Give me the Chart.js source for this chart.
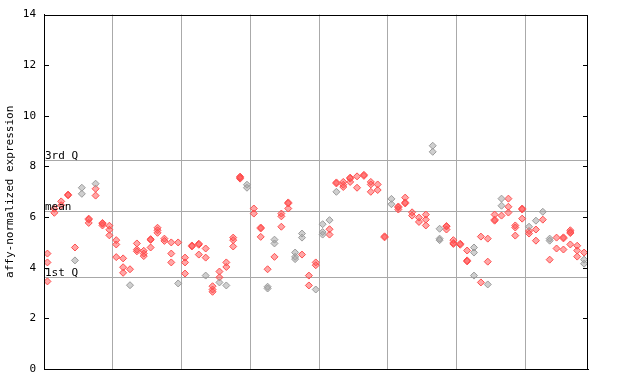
<!DOCTYPE html>
<html><head><meta charset="utf-8">
<script src="https://cdn.jsdelivr.net/npm/chart.js@4"></script>
<style>html,body{margin:0;padding:0;background:#fff}#wrap{width:640px;height:384px}canvas{display:block}</style>
</head><body>
<div id="wrap"><canvas id="c" width="640" height="384"></canvas></div>
<script>
// values per sample position (0..78), split by marker colour
const redValues = [
 [4.56,4.21,3.46],[6.33,6.17],[6.62,6.47],[6.89,6.86],[4.80],[],[5.94,5.90,5.77],[7.12,6.85],[5.77,5.74,5.67],[5.66,5.50,5.28],
 [5.09,4.92,4.42],[4.37,4.02,3.80],[3.94],[4.96,4.72,4.65],[4.67,4.56,4.46],[5.13,5.10,4.80],[5.58,5.48,5.38],[5.15,5.06],[5.00,4.56,4.21],[5.00],
 [4.40,4.21,3.77],[4.88,4.84],[4.95,4.91,4.52],[4.76,4.40],[3.27,3.14,3.05],[3.85,3.62],[4.21,4.03],[5.19,5.09,4.84],[7.60,7.56,7.52],[],
 [6.34,6.14],[5.59,5.55,5.22],[3.94],[4.43],[6.14,6.03,5.62],[6.58,6.54,6.34],[],[4.52],[3.69,3.30],[4.21,4.10],
 [],[5.52,5.31],[7.37,7.33],[7.39,7.28,7.19],[7.56,7.52,7.39],[7.61,7.16],[7.67,7.63],[7.39,7.29,7.00],[7.29,7.07],[5.24,5.20],
 [],[6.42,6.38,6.30],[6.77,6.58,6.54],[6.19,6.06],[5.98,5.81],[6.10,5.90,5.67],[],[],[5.65,5.63,5.51],[5.09,4.98,4.94],
 [4.95,4.91],[4.68,4.29,4.25],[],[5.23,3.42],[5.15,4.24],[6.10,5.90,5.86],[6.06],[6.73,6.41,6.18],[5.67,5.59,5.27],[6.34,6.30,5.94],
 [5.45,5.35],[5.51,5.07],[5.90],[4.32],[5.19,4.76],[5.20,5.16,4.72],[5.48,5.41,5.37,4.92],[4.87,4.68,4.44],[4.60]
];
const grayValues = [
 [],[],[],[],[4.29],[7.16,6.92],[],[7.32],[],[],
 [],[],[3.31],[],[],[],[],[],[],[3.38],
 [],[],[],[3.69],[],[3.42],[3.30],[],[],[7.28,7.16],
 [],[],[3.25,3.18],[5.11,4.96],[],[],[4.60,4.43,4.34],[5.35,5.19],[],[3.14],
 [5.72,5.41,5.31],[5.88],[7.00],[],[],[],[],[],[],[],
 [6.72,6.51],[],[],[],[],[],[8.82,8.58],[5.54,5.15,5.09],[],[],
 [],[],[4.80,4.60,3.69],[],[3.34],[],[6.73,6.45],[],[],[],
 [5.62],[5.86],[6.21],[5.15,5.07],[],[],[],[],[4.32,4.16]
];
const yTicks = [0,2,4,6,8,10,12,14];
const sectionBounds = [9.5,19.5,29.5,39.5,49.5,59.5,69.5];
const qLabels = ['3rd Q','mean','1st Q'];
const qValues = [8.24,6.23,3.63];

const toPoints = arr => arr.flatMap((vals,i)=>vals.map(v=>({x:i,y:v})));
const FONT = {family:'DejaVu Sans Mono', size:11};

const overlay = {
  id:'overlay',
  beforeDatasetsDraw(chart){
    const {ctx, chartArea:a, scales:{y}} = chart;
    ctx.save();
    ctx.strokeStyle = '#a8a8a8'; ctx.lineWidth = 1;
    qValues.forEach(v=>{
      const py = Math.round(y.getPixelForValue(v))+0.5;
      ctx.beginPath(); ctx.moveTo(a.left, py); ctx.lineTo(a.right, py); ctx.stroke();
    });
    ctx.restore();
  },
  afterDatasetsDraw(chart){
    const {ctx, chartArea:a, scales:{y}} = chart;
    ctx.save();
    ctx.fillStyle = '#000';
    ctx.font = '11px "DejaVu Sans Mono"';
    ctx.textBaseline = 'alphabetic'; ctx.textAlign = 'left';
    qValues.forEach((v,k)=>{
      const py = Math.round(y.getPixelForValue(v));
      ctx.fillText(qLabels[k], a.left+1, py-1);
    });
    ctx.strokeStyle = '#000'; ctx.lineWidth = 1;
    ctx.strokeRect(Math.round(a.left)+0.5, Math.round(a.top)+0.5, Math.round(a.right-a.left)-1, Math.round(a.bottom-a.top));
    yTicks.forEach(v=>{
      const py = Math.round(y.getPixelForValue(v))+0.5;
      ctx.beginPath();
      ctx.moveTo(a.left, py); ctx.lineTo(a.left+5, py);
      ctx.moveTo(a.right-5, py); ctx.lineTo(a.right, py);
      ctx.stroke();
    });
    ctx.restore();
  }
};

new Chart(document.getElementById('c'), {
  type:'scatter',
  data:{datasets:[
    {data:toPoints(grayValues), pointStyle:'rectRot', pointRadius:3.5, borderWidth:1,
     borderColor:'#9a9a9a', backgroundColor:'rgba(160,160,160,0.5)'},
    {data:toPoints(redValues), pointStyle:'rectRot', pointRadius:3.5, borderWidth:1,
     borderColor:'#ff4d4d', backgroundColor:'rgba(255,80,80,0.5)'}
  ]},
  options:{
    responsive:false, animation:false, devicePixelRatio:1,
    layout:{padding:{left:0, top:14, right:52, bottom:15}},
    plugins:{legend:{display:false}, tooltip:{enabled:false}},
    scales:{
      x:{type:'linear', min:-0.5, max:78.57,
         afterBuildTicks:s=>{s.ticks = sectionBounds.map(v=>({value:v}));},
         ticks:{display:false},
         grid:{color:'#aaaaaa', lineWidth:1, drawTicks:false},
         border:{display:true, color:'#000'},
         afterFit:s=>{s.height = 0;}},
      y:{type:'linear', min:0, max:14,
         afterBuildTicks:s=>{s.ticks = yTicks.map(v=>({value:v}));},
         ticks:{font:FONT, color:'#000', padding:8},
         grid:{drawOnChartArea:false, drawTicks:false},
         border:{display:true, color:'#000'},
         title:{display:true, text:'affy-normalized expression', font:FONT, color:'#000', padding:{top:4,bottom:0}},
         afterFit:s=>{s.width = 44;}}
    }
  },
  plugins:[overlay]
});
</script>
</body></html>
